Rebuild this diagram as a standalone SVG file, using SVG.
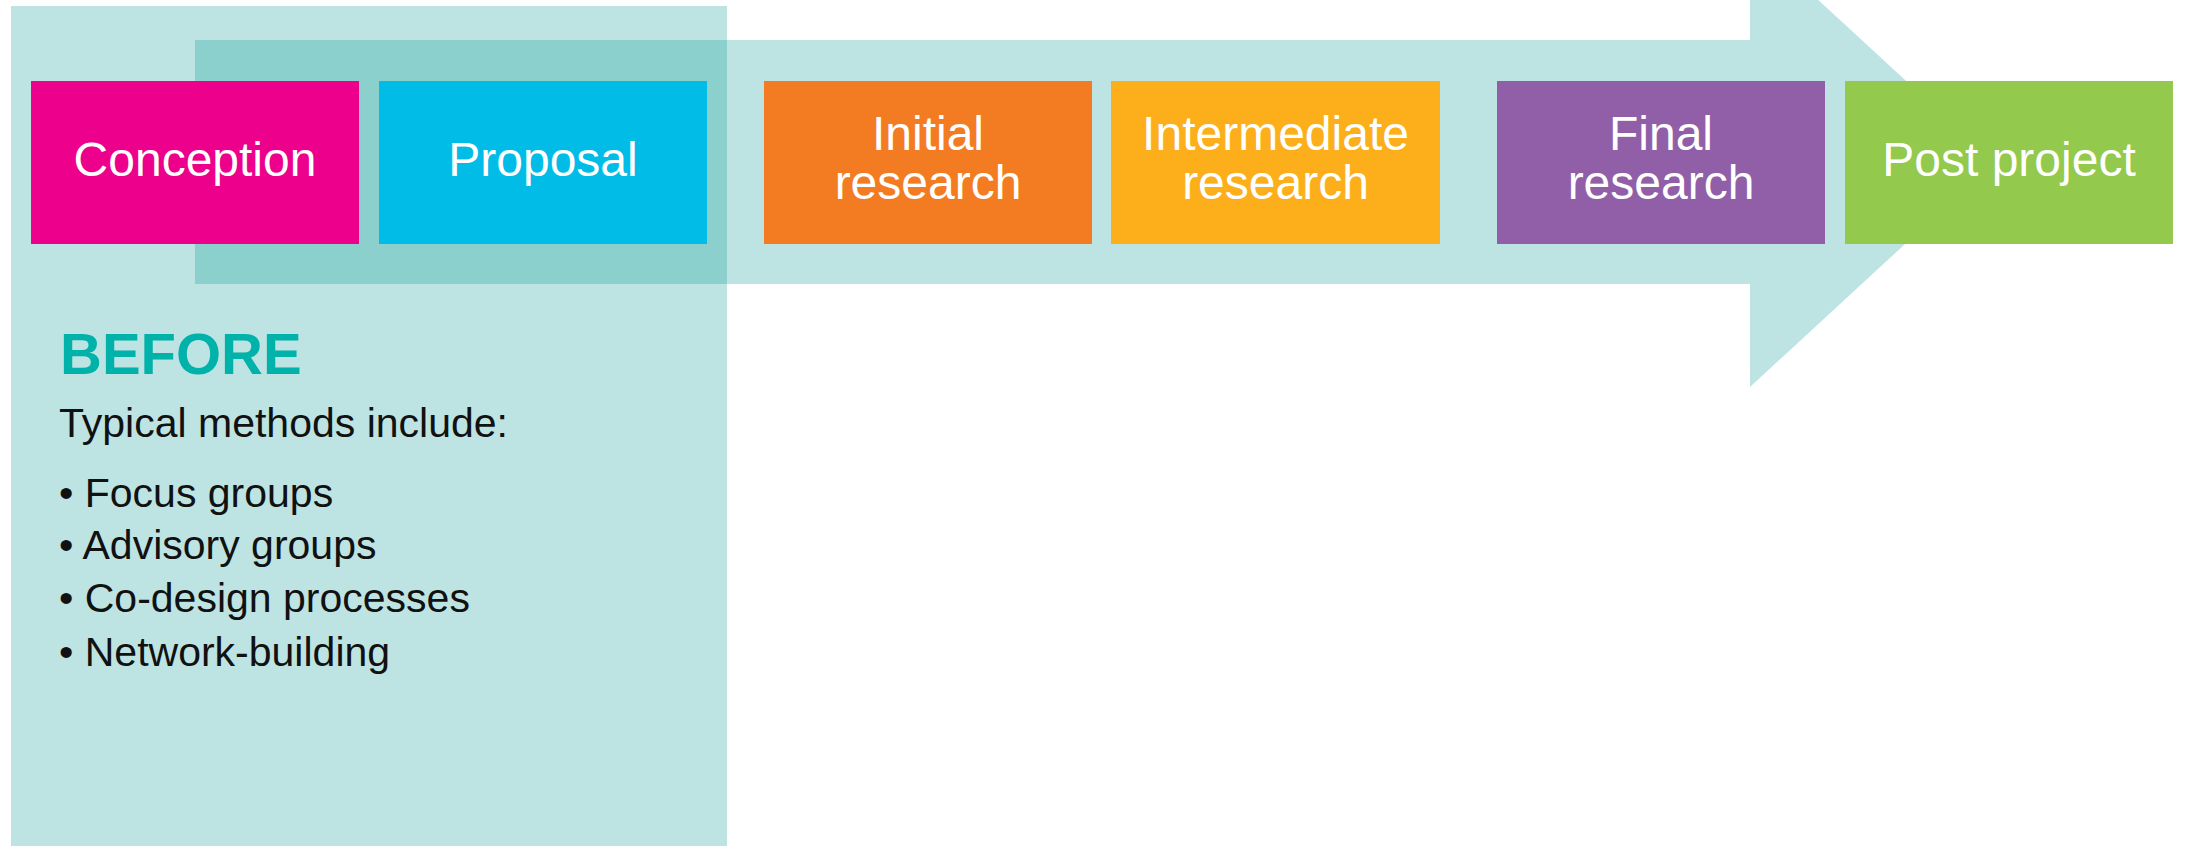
<svg xmlns="http://www.w3.org/2000/svg" width="2190" height="846" viewBox="0 0 2190 846">
<style>
.bg{fill:#BDE4E3}
.ov{fill:#8CD0CE}
.lbl{font-family:"Liberation Sans",Arial,sans-serif;font-size:48px;fill:#ffffff;text-anchor:middle}
.body{font-family:"Liberation Sans",Arial,sans-serif;font-size:41px;fill:#111111}
.title{font-family:"Liberation Sans",Arial,sans-serif;font-size:58px;font-weight:bold;fill:#00B2AA}
</style>
<rect width="2190" height="846" fill="#ffffff"/>
<g id="before-panel">
<rect class="bg" x="11" y="6" width="716" height="840"/>
</g>
<g id="connectors">
<path class="bg" d="M195,40 H1750 V-63 L1994,162 L1750,387 V284 H195 Z"/>
<rect class="ov" x="195" y="40" width="532" height="244"/>
</g>
<g id="conception"><rect x="31" y="81" width="328" height="163" fill="#EC008C"/><text class="lbl" x="195" y="176">Conception</text></g>
<g id="proposal"><rect x="379" y="81" width="328" height="163" fill="#00BCE7"/><text class="lbl" x="543" y="176">Proposal</text></g>
<g id="initial-research"><rect x="764" y="81" width="328" height="163" fill="#F37C22"/><text class="lbl" x="928" y="150">Initial</text><text class="lbl" x="928" y="199">research</text></g>
<g id="intermediate-research"><rect x="1111" y="81" width="329" height="163" fill="#FCAF1A"/><text class="lbl" x="1275.5" y="150">Intermediate</text><text class="lbl" x="1275.5" y="199">research</text></g>
<g id="final-research"><rect x="1497" y="81" width="328" height="163" fill="#915FA8"/><text class="lbl" x="1661" y="150">Final</text><text class="lbl" x="1661" y="199">research</text></g>
<g id="post-project"><rect x="1845" y="81" width="328" height="163" fill="#93C94C"/><text class="lbl" x="2009" y="176">Post project</text></g>
<g id="before-text">
<text class="title" x="60" y="374">BEFORE</text>
<text class="body" x="59" y="437">Typical methods include:</text>
<text class="body" x="59" y="507">• Focus groups</text>
<text class="body" x="59" y="559">• Advisory groups</text>
<text class="body" x="59" y="612">• Co-design processes</text>
<text class="body" x="59" y="666">• Network-building</text>
</g>
</svg>
